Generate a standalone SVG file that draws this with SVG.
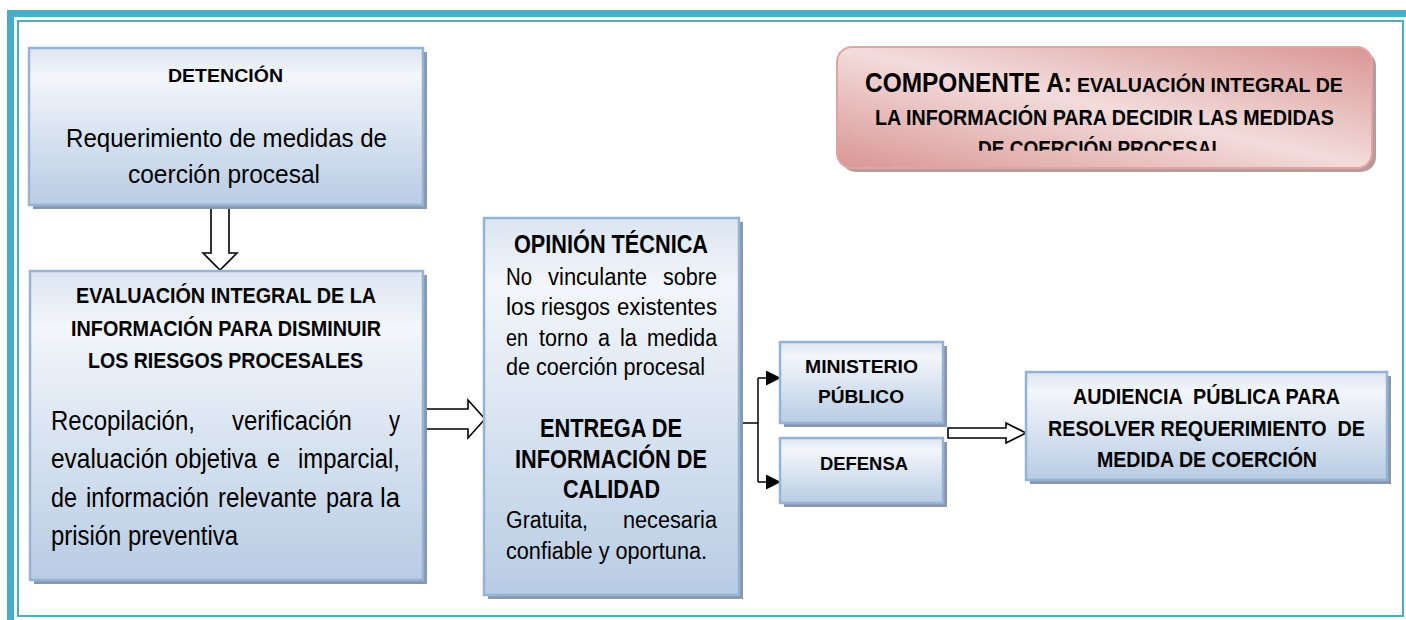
<svg xmlns="http://www.w3.org/2000/svg" width="1406" height="620" viewBox="0 0 1406 620">
<style>
text{font-family:"Liberation Sans",Arial,sans-serif;fill:#000;}
.b{font-weight:bold;}
.box{fill:url(#gBlue);stroke:#95b3d7;stroke-width:2.5;}
.sh{fill:#8a98ab;}
.blk{fill:#fff;stroke:#000;stroke-width:1.6;stroke-linejoin:miter;}
.ln{fill:none;stroke:#000;stroke-width:1.5;}
.bd{font-size:28px;}
</style>
<defs>
<linearGradient id="gBlue" x1="0" y1="0" x2="0" y2="1">
<stop offset="0" stop-color="#dbe5f1"/>
<stop offset="0.18" stop-color="#f3f6fb"/>
<stop offset="1" stop-color="#b8cce4"/>
</linearGradient>
<linearGradient id="gPink" x1="0" y1="1" x2="1" y2="0">
<stop offset="0" stop-color="#d99694"/>
<stop offset="0.5" stop-color="#f2dcdb"/>
<stop offset="1" stop-color="#d99694"/>
</linearGradient>
<marker id="ah" viewBox="0 0 10 10" refX="10" refY="5" markerWidth="17" markerHeight="15" markerUnits="userSpaceOnUse" orient="auto">
<path d="M0,0 L10,5 L0,10 Z" fill="#000"/>
</marker>
<clipPath id="clipC"><rect x="837" y="40" width="540" height="110.7"/></clipPath>
</defs>

<g id="frame">
<rect x="7" y="10" width="1399" height="7" fill="#4bacc6"/>
<rect x="7" y="10" width="7" height="610" fill="#4bacc6"/>
<rect x="18" y="21" width="1385" height="595" fill="none" stroke="#4bacc6" stroke-width="2"/>
</g>

<g id="connectors">
<polygon class="blk" points="211,205 229,205 229,253 237,253 220,270 203,253 211,253"/>
<polygon class="blk" points="422,409 468,409 468,400 485,419 468,438 468,429 422,429"/>
<polyline class="ln" points="739,423 758,423"/>
<polyline class="ln" points="758,378 758,482"/>
<line class="ln" x1="758" y1="378" x2="781" y2="378" marker-end="url(#ah)"/>
<line class="ln" x1="758" y1="482" x2="781" y2="482" marker-end="url(#ah)"/>
<polygon class="blk" points="948,428 1006,428 1006,423 1026,433 1006,443 1006,438 948,438"/>
</g>

<g id="componente">
<rect x="841" y="51" width="535" height="121" rx="15" fill="#b89a9a"/>
<rect x="837" y="47" width="535" height="121" rx="15" fill="url(#gPink)" stroke="#dea5a3" stroke-width="2"/>
<text class="b" transform="translate(865,92) scale(0.8,1)" x="0" y="0" font-size="28" textLength="258.7" lengthAdjust="spacingAndGlyphs">COMPONENTE A:</text>
<text class="b" transform="translate(1077,92) scale(0.92,1)" x="0" y="0" font-size="21" textLength="289" lengthAdjust="spacingAndGlyphs">EVALUACIÓN INTEGRAL DE</text>
<text class="b" x="875" y="125" font-size="22" textLength="459" lengthAdjust="spacingAndGlyphs">LA INFORMACIÓN PARA DECIDIR LAS MEDIDAS</text>
<g clip-path="url(#clipC)">
<text class="b" x="978" y="155.5" font-size="22" textLength="245" lengthAdjust="spacingAndGlyphs">DE COERCIÓN PROCESAL</text>
</g>
</g>

<g id="detencion">
<rect class="sh" x="33" y="52" width="394" height="157"/>
<rect class="box" x="29" y="48" width="394" height="157"/>
<text class="b" x="168" y="82" font-size="19" textLength="115" lengthAdjust="spacingAndGlyphs">DETENCIÓN</text>
<text x="66" y="147" font-size="26" textLength="321" lengthAdjust="spacingAndGlyphs">Requerimiento de medidas de</text>
<text x="128" y="183" font-size="26" textLength="192" lengthAdjust="spacingAndGlyphs">coerción procesal</text>
</g>

<g id="evaluacion">
<rect class="sh" x="34" y="275" width="393" height="309"/>
<rect class="box" x="30" y="271" width="393" height="309"/>
<text class="b" x="76" y="303" font-size="22" textLength="300" lengthAdjust="spacingAndGlyphs">EVALUACIÓN INTEGRAL DE LA</text>
<text class="b" x="71" y="336" font-size="22" textLength="310" lengthAdjust="spacingAndGlyphs">INFORMACIÓN PARA DISMINUIR</text>
<text class="b" x="88" y="368" font-size="22" textLength="275" lengthAdjust="spacingAndGlyphs">LOS RIESGOS PROCESALES</text>
<text class="bd" transform="translate(51,430) scale(0.86,1)" x="0" y="0" textLength="167.4" lengthAdjust="spacingAndGlyphs">Recopilación,</text>
<text class="bd" transform="translate(232,430) scale(0.86,1)" x="0" y="0" textLength="139.5" lengthAdjust="spacingAndGlyphs">verificación</text>
<text class="bd" transform="translate(389,430) scale(0.86,1)" x="0" y="0" textLength="12.8" lengthAdjust="spacingAndGlyphs">y</text>
<text class="bd" transform="translate(51,468) scale(0.86,1)" x="0" y="0" textLength="136" lengthAdjust="spacingAndGlyphs">evaluación</text>
<text class="bd" transform="translate(175,468) scale(0.86,1)" x="0" y="0" textLength="95.3" lengthAdjust="spacingAndGlyphs">objetiva</text>
<text class="bd" transform="translate(267,468) scale(0.86,1)" x="0" y="0" textLength="15.1" lengthAdjust="spacingAndGlyphs">e</text>
<text class="bd" transform="translate(298,468) scale(0.86,1)" x="0" y="0" textLength="118.6" lengthAdjust="spacingAndGlyphs">imparcial,</text>
<text class="bd" transform="translate(51,507) scale(0.86,1)" x="0" y="0" textLength="30.2" lengthAdjust="spacingAndGlyphs">de</text>
<text class="bd" transform="translate(86,507) scale(0.86,1)" x="0" y="0" textLength="143" lengthAdjust="spacingAndGlyphs">información</text>
<text class="bd" transform="translate(218,507) scale(0.86,1)" x="0" y="0" textLength="115.1" lengthAdjust="spacingAndGlyphs">relevante</text>
<text class="bd" transform="translate(326,507) scale(0.86,1)" x="0" y="0" textLength="54.7" lengthAdjust="spacingAndGlyphs">para</text>
<text class="bd" transform="translate(380,507) scale(0.86,1)" x="0" y="0" textLength="23.3" lengthAdjust="spacingAndGlyphs">la</text>
<text class="bd" transform="translate(51,545) scale(0.86,1)" x="0" y="0" textLength="217.4" lengthAdjust="spacingAndGlyphs">prisión preventiva</text>
</g>

<g id="opinion">
<rect class="sh" x="488" y="222" width="255" height="377"/>
<rect class="box" x="484" y="218" width="255" height="377"/>
<text class="b" x="514" y="253" font-size="25" textLength="194" lengthAdjust="spacingAndGlyphs">OPINIÓN TÉCNICA</text>
<text x="506" y="285" font-size="23" textLength="26" lengthAdjust="spacingAndGlyphs">No</text>
<text x="548" y="285" font-size="23" textLength="99" lengthAdjust="spacingAndGlyphs">vinculante</text>
<text x="663" y="285" font-size="23" textLength="54" lengthAdjust="spacingAndGlyphs">sobre</text>
<text x="506" y="315" font-size="23" textLength="29" lengthAdjust="spacingAndGlyphs">los</text>
<text x="541" y="315" font-size="23" textLength="69" lengthAdjust="spacingAndGlyphs">riesgos</text>
<text x="617" y="315" font-size="23" textLength="100" lengthAdjust="spacingAndGlyphs">existentes</text>
<text x="506" y="346" font-size="23" textLength="22" lengthAdjust="spacingAndGlyphs">en</text>
<text x="539" y="346" font-size="23" textLength="49" lengthAdjust="spacingAndGlyphs">torno</text>
<text x="598" y="346" font-size="23" textLength="12" lengthAdjust="spacingAndGlyphs">a</text>
<text x="620" y="346" font-size="23" textLength="17" lengthAdjust="spacingAndGlyphs">la</text>
<text x="647" y="346" font-size="23" textLength="70" lengthAdjust="spacingAndGlyphs">medida</text>
<text x="506" y="375" font-size="23" textLength="199" lengthAdjust="spacingAndGlyphs">de coerción procesal</text>
<text class="b" x="540" y="437" font-size="25" textLength="142" lengthAdjust="spacingAndGlyphs">ENTREGA DE</text>
<text class="b" x="515" y="468" font-size="25" textLength="192" lengthAdjust="spacingAndGlyphs">INFORMACIÓN DE</text>
<text class="b" x="563" y="498" font-size="25" textLength="97" lengthAdjust="spacingAndGlyphs">CALIDAD</text>
<text x="506" y="528" font-size="23" textLength="82" lengthAdjust="spacingAndGlyphs">Gratuita,</text>
<text x="623" y="528" font-size="23" textLength="94" lengthAdjust="spacingAndGlyphs">necesaria</text>
<text x="506" y="559" font-size="23" textLength="201" lengthAdjust="spacingAndGlyphs">confiable y oportuna.</text>
</g>

<g id="ministerio">
<rect class="sh" x="784" y="346" width="163" height="81"/>
<rect class="box" x="780" y="342" width="163" height="81"/>
<text class="b" x="805" y="373" font-size="19" textLength="113" lengthAdjust="spacingAndGlyphs">MINISTERIO</text>
<text class="b" x="818" y="403" font-size="19" textLength="86" lengthAdjust="spacingAndGlyphs">PÚBLICO</text>
</g>

<g id="defensa">
<rect class="sh" x="784" y="442" width="163" height="65"/>
<rect class="box" x="780" y="438" width="163" height="65"/>
<text class="b" x="820" y="470" font-size="19" textLength="88" lengthAdjust="spacingAndGlyphs">DEFENSA</text>
</g>

<g id="audiencia">
<rect class="sh" x="1030" y="376" width="361" height="108"/>
<rect class="box" x="1026" y="372" width="361" height="108"/>
<text class="b" x="1073" y="404" font-size="22" xml:space="preserve" textLength="267" lengthAdjust="spacingAndGlyphs">AUDIENCIA  PÚBLICA PARA</text>
<text class="b" x="1048" y="436" font-size="22" xml:space="preserve" textLength="317" lengthAdjust="spacingAndGlyphs">RESOLVER REQUERIMIENTO  DE</text>
<text class="b" x="1097" y="467" font-size="22" textLength="220" lengthAdjust="spacingAndGlyphs">MEDIDA DE COERCIÓN</text>
</g>
</svg>
